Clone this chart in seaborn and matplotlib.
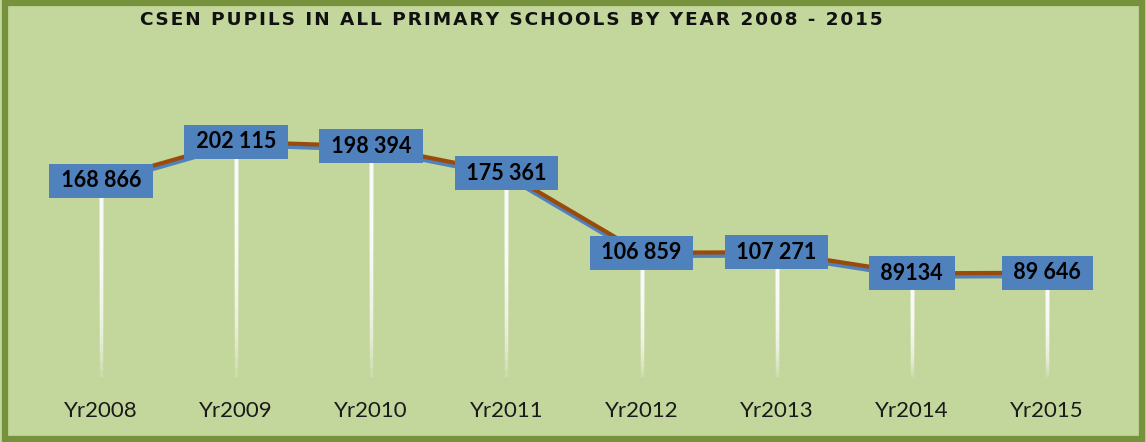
import matplotlib
matplotlib.use("Agg")
import matplotlib.pyplot as plt
import matplotlib.patheffects as pe
from matplotlib.patches import Rectangle
import seaborn as sns
import pandas as pd
import numpy as np

years = ["Yr2008", "Yr2009", "Yr2010", "Yr2011", "Yr2012", "Yr2013", "Yr2014", "Yr2015"]
pupils = [168866, 202115, 198394, 175361, 106859, 107271, 89134, 89646]
value_labels = ["168 866", "202 115", "198 394", "175 361", "106 859", "107 271", "89134", "89 646"]
title = "CSEN PUPILS IN ALL PRIMARY SCHOOLS BY YEAR 2008 - 2015"

BG = "#c3d69b"
BORDER = "#76923c"
BLUE = "#4f81bd"
BROWN = "#9a4a0a"

sns.set_theme(style="white")
plt.rcParams["font.family"] = ["Lato", "DejaVu Sans"]

df = pd.DataFrame({"year": years, "pupils": pupils})

fig = plt.figure(figsize=(11.46, 4.42), dpi=100)
fig.patch.set_facecolor(BG)
ax = fig.add_axes([0.0291, 0.147, 0.9435, 0.658])
ax.set_facecolor(BG)

x = np.arange(len(years))

# fading white drop lines (stacked translucent lines -> smooth gradient)
n_seg = 24
for k in range(n_seg):
    frac = k / n_seg
    ax.vlines(x, [v * frac for v in pupils], pupils,
              colors="white", linewidth=2.5, alpha=0.16, zorder=1)

sns.lineplot(data=df, x="year", y="pupils", ax=ax, color=BROWN, linewidth=3,
             sort=False, zorder=2,
             path_effects=[pe.SimpleLineShadow(offset=(0, -2.4), shadow_color=BLUE, alpha=1.0),
                           pe.Normal()])

for xi, v, lab in zip(x, pupils, value_labels):
    ax.text(xi, v, " " + lab + " ", ha="center", va="center", fontsize=15.5,
            fontweight="bold", color="black", zorder=5,
            bbox=dict(boxstyle="square,pad=0.3", facecolor=BLUE, edgecolor="none"))

ax.set_xlim(-0.5, len(years) - 0.5)
ax.set_ylim(0, 250000)
ax.set_xticks(x)
ax.set_xticklabels(years, fontsize=16, color="#1a1a1a")
ax.tick_params(axis="x", length=0, pad=17)
ax.set_yticks([])
ax.set_xlabel("")
ax.set_ylabel("")
for s in ax.spines.values():
    s.set_visible(False)

spaced_title = "\u200a".join(title)
fig.text(140 / 1146, 1 - 20 / 442, spaced_title, ha="left", va="center", fontsize=13.3,
         fontweight="bold", color="#111111", family=["DejaVu Sans"])

fig.patches.append(Rectangle((0.004, 0.006), 0.9925, 0.988, transform=fig.transFigure,
                             fill=False, edgecolor=BORDER, linewidth=4.5, zorder=10))

fig.savefig("out.png", dpi=100, facecolor=BG)
